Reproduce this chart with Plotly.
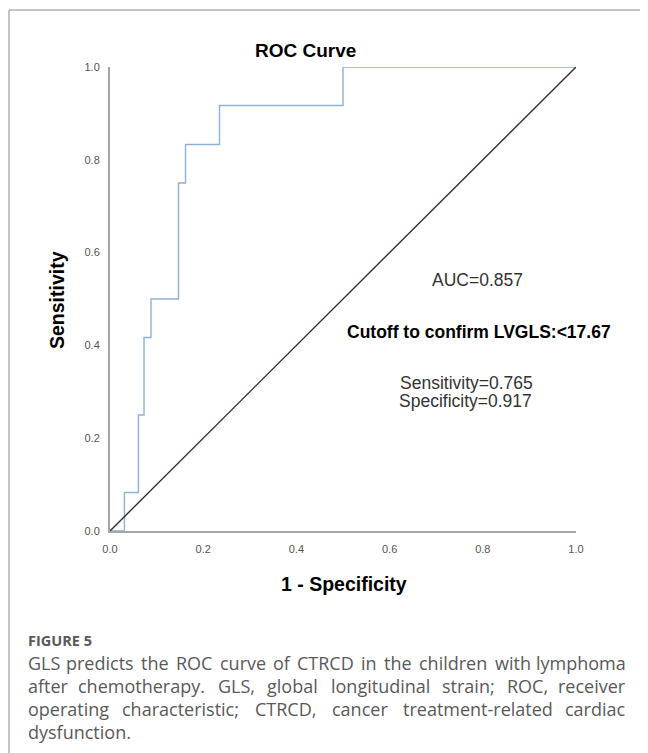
import plotly.graph_objects as go

# ROC curve data (1 - specificity, sensitivity)
fpr = [0.0, 0.031, 0.031, 0.061, 0.061, 0.073, 0.073, 0.088, 0.088, 0.147, 0.147,
       0.162, 0.162, 0.235, 0.235, 0.5, 0.5, 1.0]
tpr = [0.0, 0.0, 0.083, 0.083, 0.25, 0.25, 0.417, 0.417, 0.5, 0.5, 0.75,
       0.75, 0.833, 0.833, 0.917, 0.917, 1.0, 1.0]
ref_x = [0.0, 1.0]
ref_y = [0.0, 1.0]
tick_vals = [0.0, 0.2, 0.4, 0.6, 0.8, 1.0]
tick_text = ["0.0", "0.2", "0.4", "0.6", "0.8", "1.0"]

caption_lines = [
    "GLS predicts the ROC curve of CTRCD in the children with lymphoma",
    "after chemotherapy. GLS, global longitudinal strain; ROC, receiver",
    "operating characteristic; CTRCD, cancer treatment-related cardiac",
    "dysfunction.",
]

# page offset (browser body margin)
OFF = 8
W, H = 640, 745
L, R, T, B = 110, 576, 67, 531      # plot area in page pixels
PW, PH = R - L, B - T


def px(x):
    return (x - L) / PW


def py(y):
    return (B - y) / PH


fig = go.Figure()
fig.add_trace(go.Scatter(x=fpr, y=tpr, mode="lines",
                         line=dict(color="#8fb1d6", width=1.4),
                         cliponaxis=False, hoverinfo="skip"))
fig.add_trace(go.Scatter(x=ref_x, y=ref_y, mode="lines",
                         line=dict(color="#3a2c30", width=1.4),
                         cliponaxis=False, hoverinfo="skip"))

ARIAL = "Liberation Sans, Arial, sans-serif"
CAP = "Open Sans, sans-serif"

ann = []


def add(text, x, y, size, color="#000", bold=False, xanchor="center",
        font=ARIAL, angle=0):
    t = f"<b>{text}</b>" if bold else text
    ann.append(dict(text=t, x=px(x), y=py(y), xref="paper", yref="paper",
                    xanchor=xanchor, yanchor="middle", showarrow=False,
                    textangle=angle,
                    font=dict(family=font, size=size, color=color)))


add("ROC Curve", 305, 50, 19, bold=True)
add("Sensitivity", 57, 300, 19.5, bold=True, angle=-90)
add("1 - Specificity", 344, 584, 19.5, bold=True)
add("AUC=0.857", 430, 280, 17.5, color="#333", xanchor="left")
add("Cutoff to confirm LVGLS:&lt;17.67", 613, 332, 17.5, bold=True, xanchor="right")
add("Sensitivity=0.765", 398, 383, 17.5, color="#333", xanchor="left")
add("Specificity=0.917", 397, 401, 17.5, color="#333", xanchor="left")

# ---- caption (justified, approximate Open Sans advance widths /2048) ----
OS_W = {' ': 532, 'a': 1139, 'b': 1255, 'c': 975, 'd': 1255, 'e': 1149,
        'f': 694, 'g': 1122, 'h': 1257, 'i': 518, 'j': 518, 'k': 1075,
        'l': 518, 'm': 1905, 'n': 1257, 'o': 1237, 'p': 1255, 'q': 1255,
        'r': 836, 's': 977, 't': 723, 'u': 1257, 'v': 1026, 'w': 1593,
        'x': 1073, 'y': 1028, 'z': 977, '.': 545, ',': 545, ';': 545,
        '-': 659, 'C': 1292, 'D': 1462, 'G': 1473, 'L': 1098, 'O': 1599,
        'R': 1276, 'S': 1165, 'T': 1124}
CAP_SIZE = 18
CAP_COL = "#595959"
X0, X1 = 26, 628
line_y = [663, 686, 709, 732]


def wwidth(word):
    return sum(OS_W.get(c, 1150) for c in word) * CAP_SIZE / 2048


add("FIGURE 5", X0, 640, 14.5, color=CAP_COL, bold=True, xanchor="left", font=CAP)
for i, line in enumerate(caption_lines):
    words = line.split(" ")
    yv = line_y[i]
    if i == len(caption_lines) - 1:
        add(line, X0, yv, CAP_SIZE, color=CAP_COL, xanchor="left", font=CAP)
        continue
    widths = [wwidth(w) for w in words]
    gap = (X1 - X0 - sum(widths)) / (len(words) - 1)
    x = X0
    for j, (w, ww) in enumerate(zip(words, widths)):
        if j == 0:
            add(w, X0, yv, CAP_SIZE, color=CAP_COL, xanchor="left", font=CAP)
        elif j == len(words) - 1:
            add(w, X1, yv, CAP_SIZE, color=CAP_COL, xanchor="right", font=CAP)
        else:
            add(w, x + ww / 2, yv, CAP_SIZE, color=CAP_COL, xanchor="center", font=CAP)
        x += ww + gap

shapes = [
    dict(type="line", xref="paper", yref="paper", x0=px(9), x1=px(660),
         y0=py(10), y1=py(10), line=dict(color="#8a8a8a", width=1)),
    dict(type="line", xref="paper", yref="paper", x0=px(9), x1=px(9),
         y0=py(10), y1=py(760), line=dict(color="#8a8a8a", width=1)),
]

axis_common = dict(range=[0, 1], tickvals=tick_vals, ticktext=tick_text,
                   showgrid=False, zeroline=False, showline=True,
                   linecolor="#a6a6a6", linewidth=2, ticks="",
                   tickfont=dict(family=ARIAL, size=11, color="#555"),
                   fixedrange=True)

fig.update_layout(
    width=W, height=H,
    margin=dict(l=L - OFF, r=W - (R - OFF), t=T - OFF, b=H - (B - OFF), pad=0),
    paper_bgcolor="white", plot_bgcolor="white",
    showlegend=False,
    xaxis=dict(**axis_common, ticklabelstandoff=7),
    yaxis=dict(**axis_common, ticklabelstandoff=6),
    annotations=ann, shapes=shapes,
)

fig.write_html("out.html")
